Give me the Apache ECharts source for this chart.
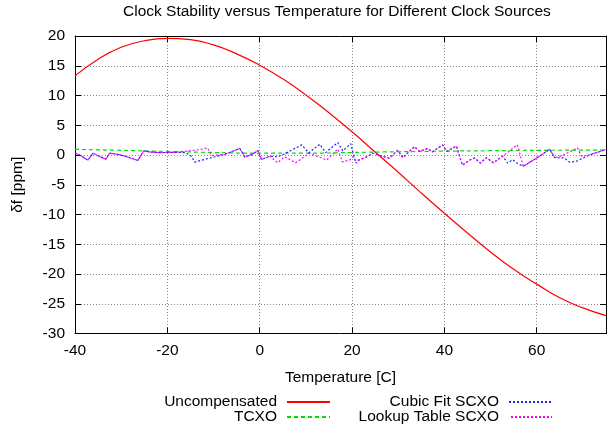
<!DOCTYPE html>
<html><head><meta charset="utf-8">
<script src="https://cdn.jsdelivr.net/npm/echarts@6/dist/echarts.min.js"></script>
<style>html,body{margin:0;padding:0;background:#fff}#c{width:611px;height:428px}</style>
</head><body><div id="c"></div><script>
// ---- data ----
const uncompTemp = [-40,-35,-30,-25,-20,-15,-10,-5,0,5,10,15,20,25,30,35,40,45,50,55,60,65,70,75];
const uncompDf   = [13.3,16.1,18.1,19.2,19.6,19.4,18.5,17.0,15.1,12.8,10.1,7.1,3.9,0.5,-2.9,-6.4,-9.8,-13.1,-16.3,-19.2,-21.7,-24.0,-25.7,-27.0];
const tcxoTemp = [-40,-30,-20,-10,0,10,20,30,40,50,60,75];
const tcxoDf   = [0.95,0.78,0.6,0.42,0.3,0.3,0.42,0.55,0.65,0.72,0.78,0.84];
const cubicTemp = [-40,-39,-37.2,-36.1,-34.6,-33.3,-32.5,-30.7,-29.2,-26.4,-25.1,-23.8,-21.6,-18.4,-16,-14.7,-14.1,-11.3,-9.7,-7.6,-4.3,-3.2,-1.5,-0.4,0.4,2.2,3.9,5.4,9.1,10.6,13,14.3,16.9,18,19.7,20.8,21.6,23.2,24.5,26,28.1,29.9,31,33.5,34.6,36.4,37.4,39.6,40.5,42.6,43.9,45.5,46.5,47.8,49.1,50.6,52.6,53.7,54.8,55.6,57.1,60,62.8,63.9,66,67.1,68.6,71.4,74.7,75];
const cubicDf   = [0.3,0,-0.85,0.3,-0.3,-0.7,0.3,0.1,-0.2,-0.9,0.7,0.5,0.4,0.45,0.4,-0.3,-1.2,-0.6,-0.3,0.1,1.1,-0.35,0.15,0.75,-0.75,-0.2,-0.3,0.2,1.7,0.35,1.8,0.4,2.1,0.7,1.9,-1.35,-0.8,-0.3,0.3,-0.1,-0.55,0.8,-0.45,1.4,0.6,1.1,0.5,1.7,0.6,1.5,-1.7,-0.85,-0.5,-1.35,-0.45,-1.3,-0.2,-1.35,-0.8,-1.3,-1.9,-0.5,0.95,-0.45,-0.5,-1.2,-1.05,0,0.85,0.9];
const lookupTemp = [-40,-39,-37.2,-36.1,-34.6,-33.3,-32.5,-30.7,-29.2,-26.4,-25.1,-23.8,-21.6,-18.4,-15.2,-13,-11.3,-10.4,-7.6,-4.3,-3.2,-1.5,-0.4,0.4,2.2,3.9,5.4,7.8,10.8,14.5,16.9,17.9,19.5,20.3,20.8,21.6,23.2,24.5,26,28.1,29.9,31,33.5,34.6,36.4,37.4,39.6,40.5,42.6,43.9,45.5,46.5,47.8,49.1,50.6,52.6,55.8,57.1,60,62.8,63.9,65.5,68.8,69.7,71.4,74.7,75];
const lookupDf   = [0.3,0,-0.85,0.3,-0.3,-0.7,0.3,0.1,-0.2,-0.9,0.7,0.5,0.4,0.45,0.7,0.9,1.2,-0.1,0.1,1.1,-0.35,0.15,0.75,-0.75,-0.2,-1.3,-0.3,-1.3,0.3,-0.85,1.0,-1.15,-0.85,-0.3,-1.0,-0.8,-0.3,0.3,-0.1,-0.55,0.8,-0.45,1.4,0.6,1.1,0.5,1.7,0.6,1.5,-1.7,-0.85,-0.5,-1.35,-0.45,-1.3,-0.2,1.7,-1.9,-0.5,0.95,-0.45,-0.1,1.2,-0.2,0,0.85,0.9];
const seriesNames = ['Uncompensated', 'TCXO', 'Cubic Fit SCXO', 'Lookup Table SCXO'];

const zip = (a, b) => a.map((v, i) => [v, b[i]]);
const FONT = 'Liberation Sans, Arial, Helvetica, sans-serif';
const FS = 15.5;

const baseX = {
  type: 'value', min: -40, max: 75, interval: 20,
  axisLine: {show: true, onZero: false, lineStyle: {color: '#000', width: 1}},
  axisTick: {show: true, inside: true, length: 6, lineStyle: {color: '#000', width: 1}},
};
const baseY = {
  type: 'value', min: -30, max: 20, interval: 5,
  axisLine: {show: true, onZero: false, lineStyle: {color: '#000', width: 1}},
  axisTick: {show: true, inside: true, length: 6, lineStyle: {color: '#000', width: 1}},
};
const gridLine = {show: true, lineStyle: {color: '#888', width: 1, type: [1, 2]}};

function legendItem(name, right, top) {
  return {
    data: [name], right: right, top: top, orient: 'horizontal', align: 'right',
    padding: 0, itemWidth: 43, itemHeight: 14, selectedMode: false,
    itemStyle: {opacity: 0},
    textStyle: {color: '#000', fontSize: FS, fontFamily: FONT, padding: [0, 5, 0, 0]}
  };
}

const chart = echarts.init(document.getElementById('c'), null, {renderer: 'canvas'});
chart.setOption({
  animation: false,
  backgroundColor: '#fff',
  textStyle: {fontFamily: FONT},
  title: {
    text: 'Clock Stability versus Temperature for Different Clock Sources',
    left: 123, top: 4, padding: 0,
    textStyle: {color: '#000', fontSize: FS, fontWeight: 'normal', fontFamily: FONT}
  },
  grid: {left: 75, right: 5, top: 36, bottom: 94.5, containLabel: false},
  xAxis: [
    Object.assign({}, baseX, {
      position: 'bottom',
      axisLabel: {color: '#000', fontSize: FS, fontFamily: FONT, margin: 9,
        formatter: v => (v === 75 ? '' : String(v))},
      splitLine: gridLine,
      name: 'Temperature [C]', nameLocation: 'middle', nameGap: 36,
      nameTextStyle: {color: '#000', fontSize: FS, fontFamily: FONT}
    }),
    Object.assign({}, baseX, {position: 'top', axisLabel: {show: false}, splitLine: {show: false}})
  ],
  yAxis: [
    Object.assign({}, baseY, {
      position: 'left',
      axisLabel: {color: '#000', fontSize: FS, fontFamily: FONT, margin: 10},
      splitLine: gridLine,
      name: 'δf [ppm]', nameLocation: 'middle', nameGap: 49,
      nameTextStyle: {color: '#000', fontSize: FS, fontFamily: FONT}
    }),
    Object.assign({}, baseY, {position: 'right', axisLabel: {show: false}, splitLine: {show: false}})
  ],
  legend: [
    legendItem(seriesNames[0], 280, 394),
    legendItem(seriesNames[1], 280, 409),
    legendItem(seriesNames[2], 58, 394),
    legendItem(seriesNames[3], 58, 409)
  ],
  series: [
    {name: seriesNames[0], type: 'line', data: zip(uncompTemp, uncompDf), smooth: true,
     showSymbol: false, symbol: 'none', lineStyle: {color: '#ff0000', width: 1.2}, itemStyle: {color: '#ff0000'}, z: 2},
    {name: seriesNames[1], type: 'line', data: zip(tcxoTemp, tcxoDf), smooth: true,
     showSymbol: false, symbol: 'none', lineStyle: {color: '#00e000', width: 1.2, type: [4, 3]}, itemStyle: {color: '#00e000'}, z: 3},
    {name: seriesNames[2], type: 'line', data: zip(cubicTemp, cubicDf),
     showSymbol: false, symbol: 'none', lineStyle: {color: '#2020ff', width: 1.2, type: [2, 2]}, itemStyle: {color: '#2020ff'}, z: 4},
    {name: seriesNames[3], type: 'line', data: zip(lookupTemp, lookupDf),
     showSymbol: false, symbol: 'none', lineStyle: {color: '#ff00ff', width: 1.2, type: [2, 2], dashOffset: 2}, itemStyle: {color: '#ff00ff'}, z: 5}
  ]
});
</script></body></html>
